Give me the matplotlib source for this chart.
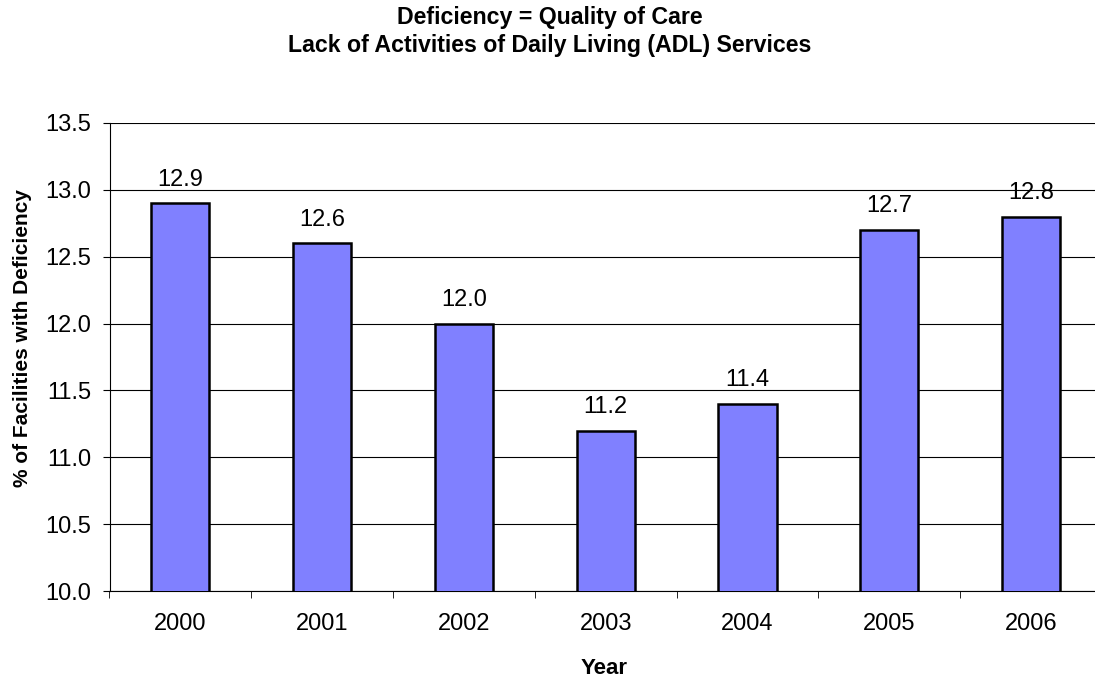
import matplotlib
matplotlib.use("Agg")
import matplotlib.pyplot as plt
import numpy as np

plt.rcParams["font.family"] = ["Liberation Sans", "DejaVu Sans"]

YEARS = ["2000", "2001", "2002", "2003", "2004", "2005", "2006"]
PERCENT = [12.9, 12.6, 12.0, 11.2, 11.4, 12.7, 12.8]
Y_TICKS = [10.0, 10.5, 11.0, 11.5, 12.0, 12.5, 13.0, 13.5]
TITLE = ["Deficiency = Quality of Care",
         "Lack of Activities of Daily Living (ADL) Services"]

fig = plt.figure(figsize=(10.95, 6.78), dpi=100)
# plot area runs off the right edge, as in the source image
ax = fig.add_axes([0.1, 0.1283, 0.9064, 0.6903])

x = np.arange(len(YEARS))
ax.bar(x, PERCENT, width=0.41, color="#8080FF", edgecolor="black",
       linewidth=1.8, zorder=3)
for xi, v in zip(x, PERCENT):
    ax.annotate(f"{v:.1f}", (xi, v), xytext=(0, 9), textcoords="offset points",
                ha="center", va="bottom", fontsize=17)

ax.set_xlim(-0.5, len(YEARS) - 0.5)
ax.set_ylim(10.0, 13.5)
ax.set_yticks(Y_TICKS)
ax.set_yticklabels([f"{t:.1f}" for t in Y_TICKS], fontsize=17)
ax.yaxis.grid(True, color="black", linewidth=0.8, zorder=0)
ax.set_axisbelow(True)

ax.set_xticks(x)
ax.set_xticklabels(YEARS, fontsize=17)
ax.tick_params(axis="x", length=0, pad=15.5)
ax.set_xticks(np.arange(len(YEARS) + 1) - 0.5, minor=True)
ax.tick_params(axis="x", which="minor", length=5, direction="out")
ax.tick_params(axis="y", length=5, direction="out", pad=8)

for s in ["top", "right"]:
    ax.spines[s].set_visible(False)

fig.text(0.0205, 0.5007, "% of Facilities with Deficiency", rotation=90,
         ha="center", va="center", fontsize=15, fontweight="bold")
fig.text(0.5516, 0.006, "Year", ha="center", va="baseline",
         fontsize=16, fontweight="bold")

fig.text(0.5023, 0.9653, TITLE[0], ha="center", va="baseline",
         fontsize=16.7, fontweight="bold")
fig.text(0.5023, 0.9233, TITLE[1], ha="center", va="baseline",
         fontsize=16.7, fontweight="bold")

fig.savefig("out.png", dpi=100)
